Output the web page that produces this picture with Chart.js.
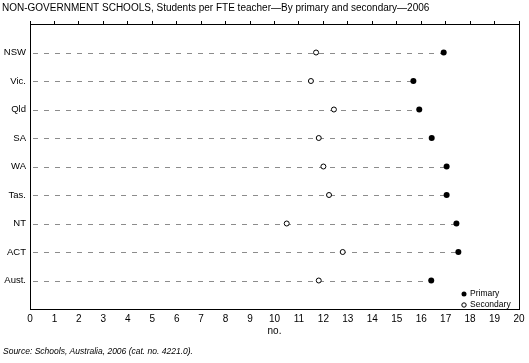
<!DOCTYPE html>
<html>
<head>
<meta charset="utf-8">
<script src="https://cdn.jsdelivr.net/npm/chart.js@4.4.0/dist/chart.umd.min.js"></script>
<style>
  body { margin: 0; background: #fff; }
</style>
</head>
<body>
<canvas id="myChart" width="529" height="363"></canvas>
<script>
const states = ['NSW', 'Vic.', 'Qld', 'SA', 'WA', 'Tas.', 'NT', 'ACT', 'Aust.'];
const primary = [16.92, 15.68, 15.92, 16.43, 17.04, 17.04, 17.44, 17.52, 16.41];
const secondary = [11.70, 11.49, 12.43, 11.81, 12.00, 12.23, 10.50, 12.79, 11.81];

const FONT = '"Liberation Sans", Arial, sans-serif';
Chart.defaults.font.family = FONT;
Chart.defaults.color = '#000';

// dashed guide line from 0 to the primary value, plus title/source/legend text
const extras = {
  id: 'extras',
  beforeDatasetsDraw(chart) {
    const { ctx, scales: { x, y } } = chart;
    ctx.save();
    ctx.strokeStyle = '#8c8c8c';
    ctx.lineWidth = 1;
    ctx.setLineDash([5, 6]);
    primary.forEach((v, i) => {
      const py = Math.round(y.getPixelForValue(i + 1)) + 0.5;
      ctx.beginPath();
      ctx.moveTo(x.getPixelForValue(0) + 3, py);
      ctx.lineTo(x.getPixelForValue(v), py);
      ctx.stroke();
    });
    ctx.restore();
  },
  afterDraw(chart) {
    const { ctx, scales: { x } } = chart;
    ctx.save();
    ctx.fillStyle = '#000';
    ctx.textBaseline = 'middle';
    ctx.font = '10px ' + FONT;
    ctx.fillText('NON-GOVERNMENT SCHOOLS, Students per FTE teacher\u2014By primary and secondary\u20142006', 2, 8);
    ctx.textAlign = 'center';
    ctx.fillText('no.', x.getPixelForValue(10), 331);
    ctx.textAlign = 'left';
    ctx.font = 'italic 8.5px ' + FONT;
    ctx.fillText('Source: Schools, Australia, 2006 (cat. no. 4221.0).', 3, 352);

    // legend
    ctx.font = '8.5px ' + FONT;
    ctx.fillText('Primary', 470, 294);
    ctx.fillText('Secondary', 470, 305);
    ctx.beginPath();
    ctx.arc(464, 294, 2.5, 0, Math.PI * 2);
    ctx.fill();
    ctx.beginPath();
    ctx.arc(464, 305, 2.2, 0, Math.PI * 2);
    ctx.fillStyle = '#fff';
    ctx.fill();
    ctx.strokeStyle = '#000';
    ctx.lineWidth = 1;
    ctx.stroke();
    ctx.restore();
  }
};

new Chart(document.getElementById('myChart'), {
  type: 'scatter',
  data: {
    datasets: [
      {
        label: 'Secondary',
        data: secondary.map((v, i) => ({ x: v, y: i + 1 })),
        pointStyle: 'circle',
        pointRadius: 2.5,
        pointBackgroundColor: '#fff',
        pointBorderColor: '#000',
        pointBorderWidth: 1
      },
      {
        label: 'Primary',
        data: primary.map((v, i) => ({ x: v, y: i + 1 })),
        pointStyle: 'circle',
        pointRadius: 3,
        pointBackgroundColor: '#000',
        pointBorderColor: '#000',
        pointBorderWidth: 0
      }
    ]
  },
  options: {
    responsive: false,
    animation: false,
    devicePixelRatio: 1,
    layout: { padding: 0 },
    plugins: {
      legend: { display: false },
      tooltip: { enabled: false }
    },
    scales: {
      x: {
        type: 'linear',
        position: 'bottom',
        min: 0,
        max: 20,
        ticks: { stepSize: 1, autoSkip: false, maxRotation: 0, padding: 4, font: { size: 10 } },
        grid: { display: false, drawTicks: false },
        border: { display: true, color: '#000', width: 1 },
        afterFit(scale) { scale.height = 54; }
      },
      x2: {
        type: 'linear',
        position: 'top',
        min: 0,
        max: 20,
        ticks: { stepSize: 1, display: false, autoSkip: false },
        grid: { display: true, drawOnChartArea: false, drawTicks: true, tickLength: 3, color: '#000' },
        border: { display: true, color: '#000', width: 1 },
        afterFit(scale) { scale.height = 24; }
      },
      y: {
        type: 'linear',
        position: 'left',
        min: 0,
        max: 10,
        reverse: true,
        afterBuildTicks(scale) {
          scale.ticks = states.map((s, i) => ({ value: i + 1 }));
        },
        ticks: {
          autoSkip: false,
          padding: 4,
          font: { size: 9.5 },
          callback: (v) => states[v - 1] || ''
        },
        grid: { display: false, drawTicks: false },
        border: { display: true, color: '#000', width: 1 },
        afterFit(scale) { scale.width = 30; }
      },
      y2: {
        type: 'linear',
        position: 'right',
        min: 0,
        max: 10,
        ticks: { display: false },
        grid: { display: false, drawTicks: false },
        border: { display: true, color: '#000', width: 1 },
        afterFit(scale) { scale.width = 10; }
      }
    }
  },
  plugins: [extras]
});
</script>
</body>
</html>
